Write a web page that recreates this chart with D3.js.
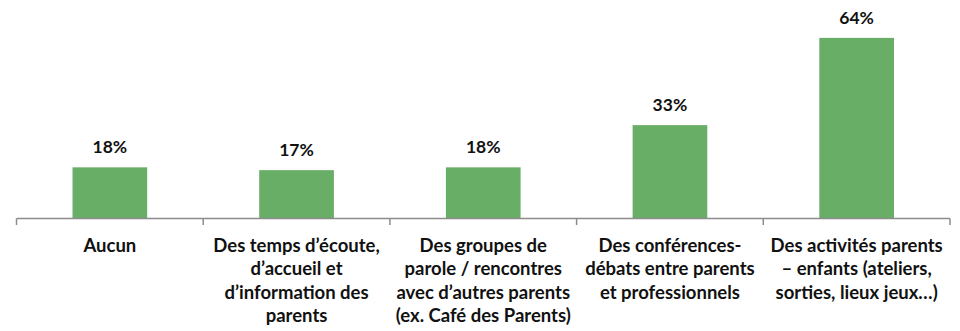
<!DOCTYPE html>
<html>
<head>
<meta charset="utf-8">
<script src="https://cdn.jsdelivr.net/npm/d3@7"></script>
<style>
  html, body { margin: 0; padding: 0; background: #fff; }
  svg { display: block; font-family: Lato, "Open Sans", sans-serif; }
</style>
</head>
<body>
<svg id="chart" width="960" height="331"></svg>
<script>
// Categories (each entry is the list of wrapped label lines)
const categories = [
  ["Aucun"],
  ["Des temps d\u2019écoute,", "d\u2019accueil et", "d\u2019information des", "parents"],
  ["Des groupes de", "parole / rencontres", "avec d\u2019autres parents", "(ex. Café des Parents)"],
  ["Des conférences-", "débats entre parents", "et professionnels"],
  ["Des activités parents", "\u2013 enfants (ateliers,", "sorties, lieux jeux\u2026)"]
];
// Share of respondents (%)
const values = [18, 17, 18, 33, 64];

const svg = d3.select("#chart");
const margin = { left: 16.5, right: 10, axisY: 218, top: 21 };
const width = 960;

const keys = categories.map((d, i) => i);

const x = d3.scaleBand()
  .domain(keys)
  .range([margin.left, width - margin.right])
  .paddingInner(0.6)
  .paddingOuter(0.3);

const y = d3.scaleLinear()
  .domain([0, 70])
  .range([margin.axisY, margin.top]);

// Bars
svg.append("g")
  .selectAll("rect")
  .data(values)
  .join("rect")
  .attr("x", (d, i) => x(i))
  .attr("y", d => y(d))
  .attr("width", x.bandwidth())
  .attr("height", d => y(0) - y(d))
  .attr("fill", "#69ae67");

// Value labels
svg.append("g")
  .selectAll("text")
  .data(values)
  .join("text")
  .attr("x", (d, i) => x(i) + x.bandwidth() / 2)
  .attr("y", d => y(d) - 14)
  .attr("text-anchor", "middle")
  .attr("font-weight", "bold")
  .attr("font-size", 17.5)
  .attr("fill", "#111")
  .text(d => d + "%");

// Category axis: baseline with tick marks between categories
const axisG = svg.append("g").attr("stroke", "#8c8c8c").attr("stroke-width", 1.5);
axisG.append("line")
  .attr("x1", margin.left).attr("x2", width - margin.right)
  .attr("y1", margin.axisY + 0.5).attr("y2", margin.axisY + 0.5);
const outer = (width - margin.right - margin.left) / keys.length;
axisG.selectAll("line.tick")
  .data(d3.range(keys.length + 1))
  .join("line")
  .attr("class", "tick")
  .attr("x1", i => margin.left + i * outer)
  .attr("x2", i => margin.left + i * outer)
  .attr("y1", margin.axisY + 0.5)
  .attr("y2", margin.axisY + 7);

// Category labels
const lab = svg.append("g")
  .selectAll("text")
  .data(categories)
  .join("text")
  .attr("x", (d, i) => x(i) + x.bandwidth() / 2)
  .attr("y", 252)
  .attr("text-anchor", "middle")
  .attr("font-weight", "bold")
  .attr("font-size", 18.5)
  .attr("fill", "#111");
lab.each(function(lines) {
  const t = d3.select(this);
  const cx = t.attr("x");
  lines.forEach((line, j) => {
    t.append("tspan").attr("x", cx).attr("dy", j === 0 ? 0 : 23.4).text(line);
  });
});
</script>
</body>
</html>
